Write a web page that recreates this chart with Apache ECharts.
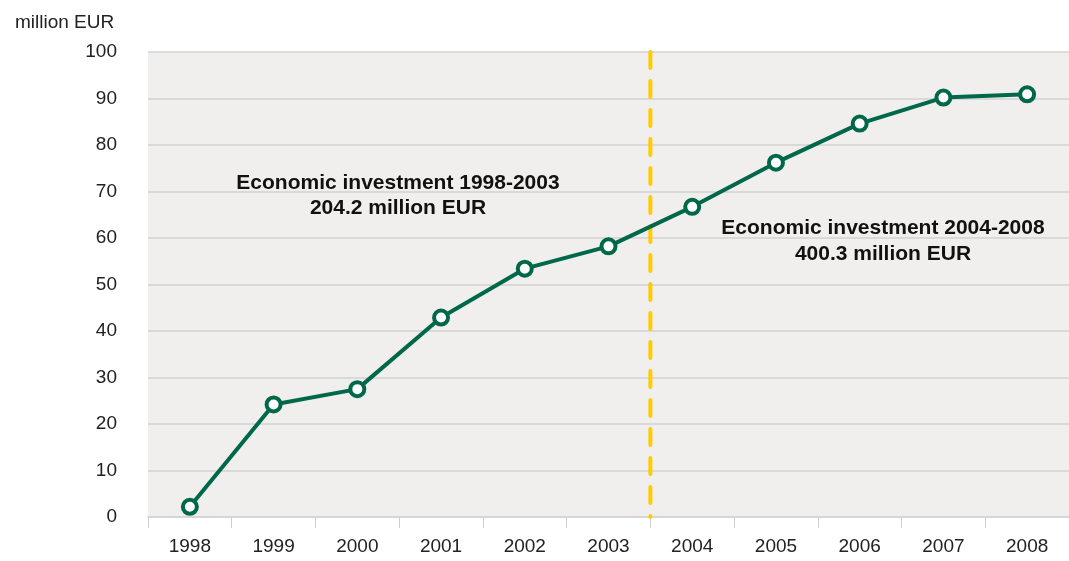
<!DOCTYPE html>
<html>
<head>
<meta charset="utf-8">
<script src="https://cdn.jsdelivr.net/npm/echarts@6/dist/echarts.min.js"></script>
<style>
html,body{margin:0;padding:0;background:#fff;}
#chart{width:1069px;height:561px;}
</style>
</head>
<body>
<div id="chart"></div>
<script>
// years on the x axis
const years = ['1998','1999','2000','2001','2002','2003','2004','2005','2006','2007','2008']
// investment per year, million EUR
const investment = [2.2, 24.2, 27.5, 42.9, 53.4, 58.2, 66.7, 76.2, 84.6, 90.2, 90.9]
const yTicks = [0, 100, 10] // min, max, interval
const noteLeft = ['Economic investment 1998-2003', '204.2 million EUR']
const noteRight = ['Economic investment 2004-2008', '400.3 million EUR']
// split between 2003 and 2004, measured in category widths from the left edge
const splitAt = 6

const chart = echarts.init(document.getElementById('chart'))
const font = '"Liberation Sans", Arial, sans-serif'

chart.setOption({
    animation:false,
    textStyle:{fontFamily:font},
    grid:{
        left:148, width:926, top:52, bottom:44,
        show:true, backgroundColor:'#f0efed', borderWidth:0
    },
    title:{
        text:'million EUR',
        left:10, top:8,
        textStyle:{fontSize:19, fontWeight:'normal', color:'#222', fontFamily:font}
    },
    xAxis:[
        {
            type:'category',
            data:years,
            boundaryGap:true,
            axisLine:{show:true, lineStyle:{color:'#d4d4d4', width:1.5}},
            axisTick:{show:true, length:11, lineStyle:{color:'#cfcfcf', width:1}},
            axisLabel:{fontSize:19, color:'#222', margin:20, fontFamily:font},
            splitLine:{show:false}
        },
        {
            // hidden helper axis spanning the same width, used for the divider
            type:'value',
            min:0, max:years.length,
            show:false
        }
    ],
    yAxis:{
        type:'value',
        min:yTicks[0], max:yTicks[1], interval:yTicks[2],
        axisLine:{show:false},
        axisTick:{show:false},
        axisLabel:{fontSize:19, color:'#222', margin:31, fontFamily:font},
        splitLine:{show:true, lineStyle:{color:'#d2d2d2', width:1.5}}
    },
    series:[
        {
            type:'line',
            xAxisIndex:1,
            data:[[splitAt, yTicks[1]], [splitAt, yTicks[0]]],
            symbol:'none',
            silent:true,
            lineStyle:{color:'#ffcc00', width:4, type:[16,13], cap:'round'},
            z:3
        },
        {
            type:'line',
            data:investment,
            symbol:'circle',
            symbolSize:14,
            showAllSymbol:true,
            lineStyle:{color:'#00684a', width:4},
            itemStyle:{color:'#ffffff', borderColor:'#00684a', borderWidth:4},
            z:5
        }
    ],
    graphic:[
        {
            type:'text', x:398, y:171, z:10,
            style:{
                text:noteLeft.join('\n'), align:'center',
                font:'bold 21px ' + font, fill:'#111', lineHeight:25
            }
        },
        {
            type:'text', x:883, y:215, z:10,
            style:{
                text:noteRight.join('\n'), align:'center',
                font:'bold 21px ' + font, fill:'#111', lineHeight:26
            }
        }
    ]
})
</script>
</body>
</html>
